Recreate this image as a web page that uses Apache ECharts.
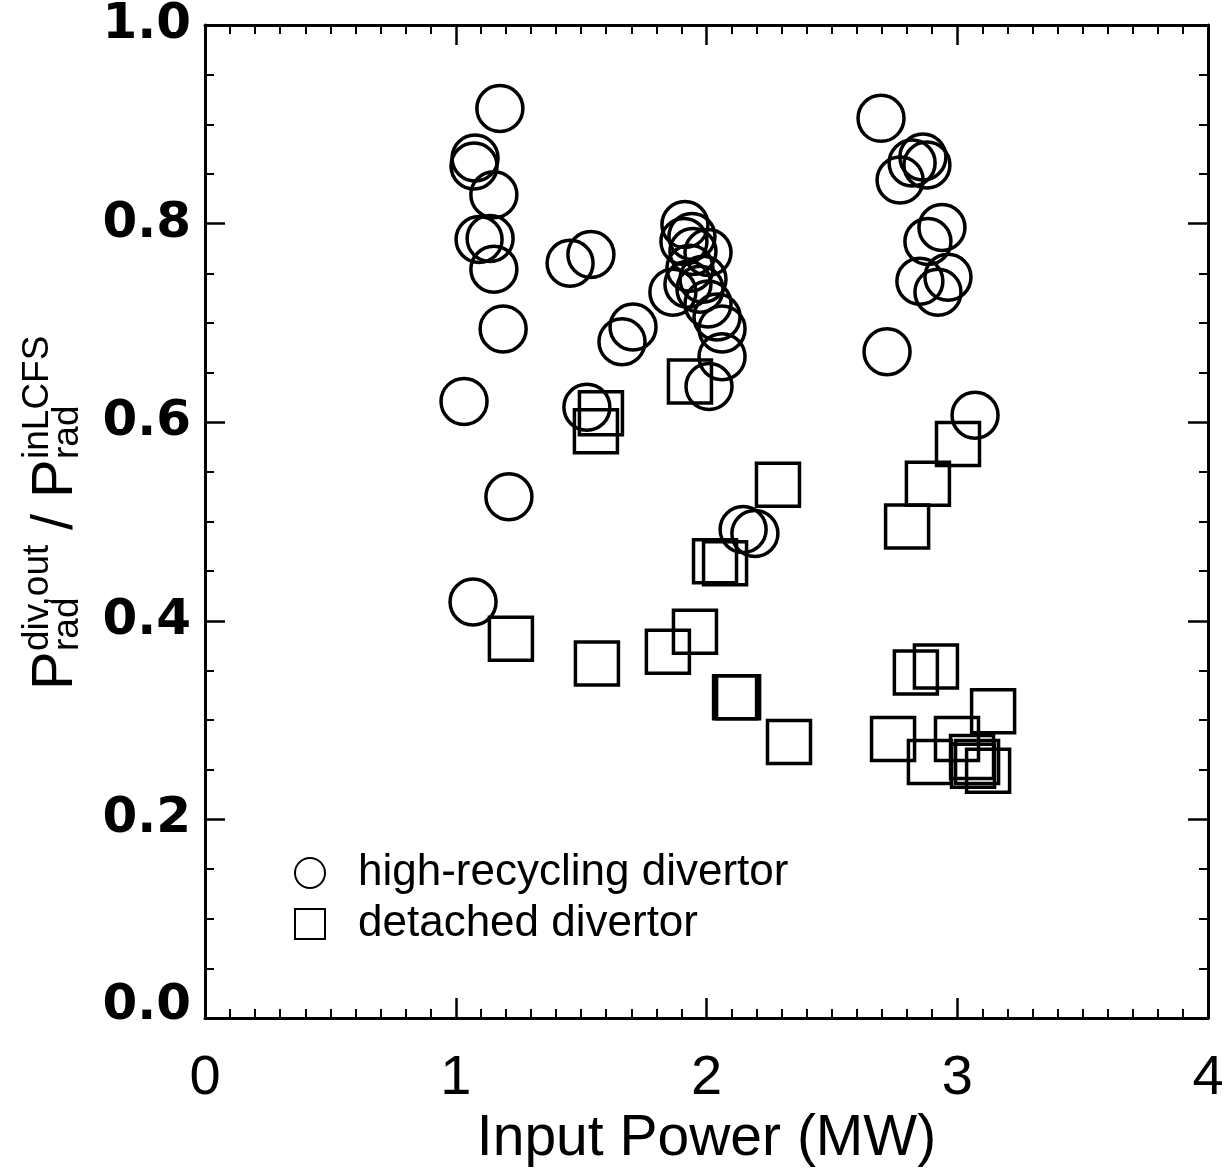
<!DOCTYPE html>
<html>
<head>
<meta charset="utf-8">
<script src="https://cdn.jsdelivr.net/npm/echarts@6/dist/echarts.min.js"></script>
<style>html,body{margin:0;padding:0;background:#fff;}#c{width:1230px;height:1173px;}</style>
</head>
<body>
<div id="c"></div>
<script>
// Data: [input power (MW), P_rad^div,out / P_rad^inLCFS]
var highRecycling = [
  [1.176,0.916],[1.077,0.866],[1.073,0.858],[1.152,0.829],[1.093,0.784],[1.137,0.785],
  [1.152,0.754],[1.189,0.694],[1.456,0.760],[1.539,0.769],[1.663,0.681],[1.707,0.696],
  [1.033,0.621],[1.212,0.525],[1.069,0.419],[1.523,0.615],[2.146,0.492],[2.193,0.488],
  [2.010,0.636],[1.914,0.799],[1.910,0.782],[1.942,0.787],[2.006,0.771],[1.946,0.772],
  [1.866,0.731],[1.926,0.739],[1.974,0.734],[1.986,0.744],[1.934,0.755],[2.006,0.719],
  [2.042,0.706],[2.062,0.694],[2.062,0.666],
  [2.696,0.906],[2.772,0.844],[2.820,0.861],[2.863,0.867],[2.879,0.859],[2.939,0.796],
  [2.883,0.782],[2.851,0.742],[2.963,0.746],[2.923,0.731],[2.720,0.671],[3.071,0.607]
];
var detached = [
  [1.934,0.641],[1.579,0.609],[1.559,0.591],[2.285,0.537],[2.034,0.460],[2.074,0.458],
  [1.220,0.382],[1.563,0.357],[1.846,0.369],[1.954,0.389],[2.114,0.323],[2.126,0.323],
  [2.329,0.278],[3.003,0.578],[2.883,0.538],[2.800,0.495],[2.915,0.354],[2.835,0.348],
  [3.143,0.309],[2.744,0.281],[2.999,0.281],[2.891,0.258],[3.059,0.263],[3.063,0.254],
  [3.123,0.249],[3.079,0.258]
];
var seriesNames = ['high-recycling divertor', 'detached divertor'];
var xRange = [0, 4], xStep = 1;
var yRange = [0, 1], yStep = 0.2;
var xTitle = 'Input Power (MW)';

var FONT = "'Liberation Sans', Arial, Helvetica, sans-serif";
var chart = echarts.init(document.getElementById('c'), null, {renderer: 'canvas'});

function axisBase(pos, showLabel, isX) {
  return {
    type: 'value',
    position: pos,
    min: isX ? xRange[0] : yRange[0],
    max: isX ? xRange[1] : yRange[1],
    interval: isX ? xStep : yStep,
    axisLine: {show: true, onZero: false, lineStyle: {color: '#000', width: 3}},
    axisTick: {show: true, inside: true, length: 20, lineStyle: {color: '#000', width: 2.5}},
    minorTick: {show: true, splitNumber: isX ? 10 : 4, length: 9, lineStyle: {color: '#000', width: 2}},
    splitLine: {show: false},
    minorSplitLine: {show: false},
    axisLabel: {show: showLabel}
  };
}

var xBottom = axisBase('bottom', true, true);
xBottom.axisLabel = {show: true, fontFamily: FONT, fontSize: 56, color: '#000', margin: 32};
xBottom.name = xTitle;
xBottom.nameLocation = 'middle';
xBottom.nameGap = 86;
xBottom.nameTextStyle = {fontFamily: FONT, fontSize: 57, color: '#000'};
var xTop = axisBase('top', false, true);

var yLeft = axisBase('left', true, false);
yLeft.axisLabel = {
  show: true, margin: 14,
  fontFamily: "'DejaVu Sans', sans-serif", fontWeight: 'bold', fontSize: 50, color: '#000',
  formatter: function (v) { return v === 0 ? '{z|0.0}' : v.toFixed(1); },
  rich: {z: {fontFamily: "'DejaVu Sans', sans-serif", fontWeight: 'bold', fontSize: 50, color: '#000', padding: [0, 0, 24, 0]}}
};
var yRight = axisBase('right', false, false);

function sc(name, symbol, size, data) {
  return {
    name: name, type: 'scatter', symbol: symbol, symbolSize: size, data: data,
    xAxisIndex: 0, yAxisIndex: 0,
    itemStyle: {color: 'rgba(0,0,0,0)', borderColor: '#000', borderWidth: 3.5, opacity: 1},
    emphasis: {disabled: true}
  };
}

var PF = 58, SF = 37;
function t(txt, x, y, fs) {
  return {type: 'text', x: x, y: y, style: {text: txt, font: fs + 'px ' + FONT, fill: '#000', align: 'left', verticalAlign: 'middle'}};
}
var yTitle = {
  type: 'group', x: 76, y: 690, rotation: Math.PI / 2,
  children: [
    t('P', 0, -20, PF),
    t('div,out', 39, -38, SF),
    t('rad', 39, -8, SF),
    t('/', 160, -20, PF),
    t('P', 192, -20, PF),
    t('inLCFS', 231, -38, SF),
    t('rad', 231, -8, SF)
  ]
};

chart.setOption({
  animation: false,
  backgroundColor: '#fff',
  grid: {left: 205, top: 18, width: 1003, height: 1004, containLabel: false},
  xAxis: [xBottom, xTop],
  yAxis: [yLeft, yRight],
  legend: {
    orient: 'vertical', left: 289, top: 846, itemWidth: 30, itemHeight: 30, itemGap: 7,
    selectedMode: false, data: seriesNames,
    textStyle: {fontFamily: FONT, fontSize: 44, color: '#000', padding: [0, 0, 0, 28]}
  },
  series: [
    sc(seriesNames[0], 'circle', 46, highRecycling),
    sc(seriesNames[1], 'rect', 43, detached)
  ],
  graphic: [yTitle]
});
</script>
</body>
</html>
